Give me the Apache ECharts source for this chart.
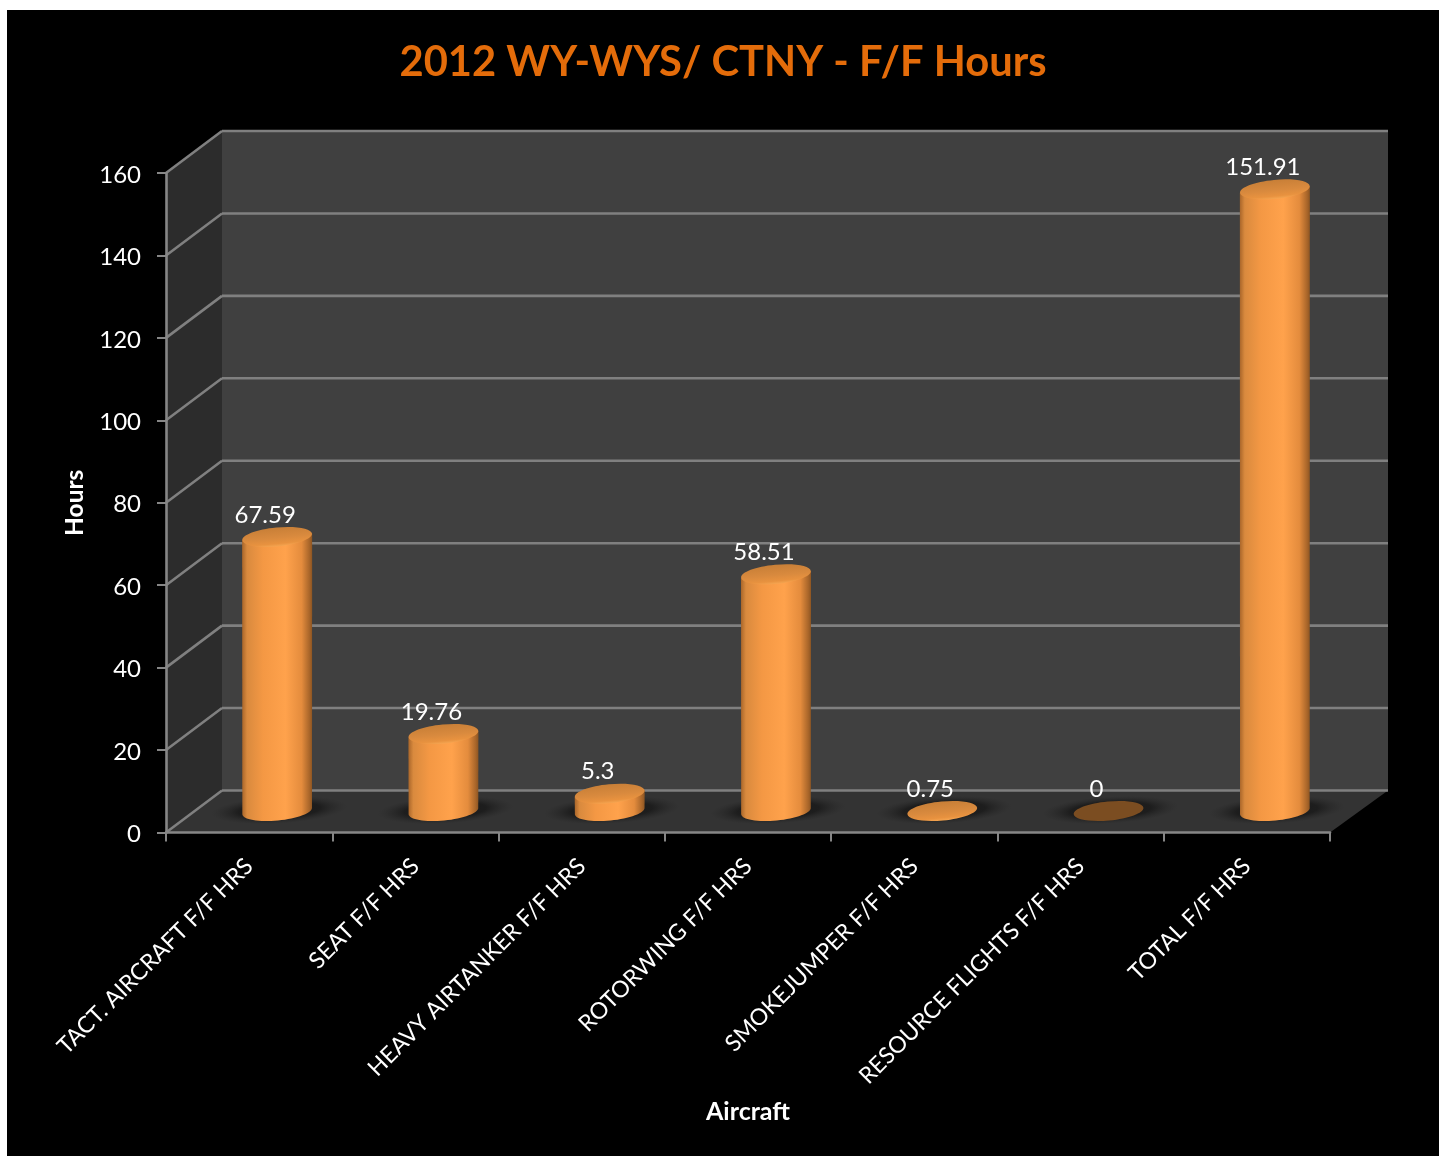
<!DOCTYPE html>
<html><head><meta charset="utf-8">
<style>html,body{margin:0;padding:0;background:#fff}#c{width:1443px;height:1156px}</style>
<script src="https://cdn.jsdelivr.net/npm/echarts@6/dist/echarts.min.js"></script>
</head><body><div id="c"></div>
<script>
const categories = ["TACT. AIRCRAFT F/F HRS","SEAT F/F HRS","HEAVY AIRTANKER F/F HRS","ROTORWING F/F HRS","SMOKEJUMPER F/F HRS","RESOURCE FLIGHTS F/F HRS","TOTAL F/F HRS"];
const hours = [67.59,19.76,5.3,58.51,0.75,0,151.91];
const yTicks = [0,20,40,60,80,100,120,140,160];
const FONT = 'Lato';
const GRID = '#808080';
const DX = 56, DXR = 58, DY = -42;  // depth of the 3D box
const RX = 35, RY = 9.5, TILT = 0.095;
const chart = echarts.init(document.getElementById('c'), null, {renderer:'canvas'});

function cylinder(params, api){
  const i = api.value(0), v = api.value(1);
  const p = api.coord([i, v]), p0 = api.coord([i, 0]);
  const cx = p[0] + DX/2;
  const by = p0[1] + DY/2 - 0.5;
  const ty = Math.min(p[1] + DY/2 + 4, by);
  const sx = Math.sin(TILT)*RX;
  const ch = [];
  ch.push({type:'circle', x:cx+2, y:by-1, rotation:TILT*0.6, scaleY:0.2, shape:{cx:0,cy:0,r:68},
    style:{fill:new echarts.graphic.RadialGradient(0.5,0.5,0.5,[
      {offset:0,color:'rgba(22,22,22,0.95)'},{offset:.6,color:'rgba(24,24,24,0.8)'},{offset:1,color:'rgba(40,40,40,0)'}])}, z2:1});
  if (ty < by - 0.5) {
    const pts = [[cx-RX,ty+sx],[cx+RX,ty-sx]];
    const n = 32;
    for (let k=0;k<=n;k++){
      const a = Math.PI*k/n;
      const ex = RX*Math.cos(a), ey = RY*Math.sin(a);
      pts.push([cx+ex*Math.cos(TILT)+ey*Math.sin(TILT), by-ex*Math.sin(TILT)+ey*Math.cos(TILT)]);
    }
    ch.push({type:'polygon', shape:{points:pts}, z2:2, style:{fill:new echarts.graphic.LinearGradient(0,0,1,0,[
      {offset:0,color:'#a9662a'},{offset:.07,color:'#d98a3e'},{offset:.3,color:'#f49844'},
      {offset:.62,color:'#ffa24c'},{offset:.85,color:'#e48c3d'},{offset:.96,color:'#a9662a'},{offset:1,color:'#8d5522'}])}});
  }
  ch.push({type:'ellipse', x:cx, y:ty, rotation:TILT, shape:{cx:0,cy:0,rx:RX,ry:RY}, z2:3,
    style: v===0 ? {fill:'#7b4d21'} : {fill:new echarts.graphic.LinearGradient(0,0,0,1,[
      {offset:0,color:'#c87f37'},{offset:.55,color:'#d98a3e'},{offset:.85,color:'#e8923f'},{offset:1,color:'#f5a551'}])}});
  ch.push({type:'text', z2:4, style:{text:String(v), x:cx-12, y:ty-22, fill:'#fff',
    font:'24px '+FONT, align:'center', verticalAlign:'middle'}});
  return {type:'group', children:ch};
}

function walls(params, api){
  const t = api.value(1);
  const cs = params.coordSys;
  const y = api.coord([0,t])[1];
  const L = cs.x, R = cs.x+cs.width, T = cs.y, B = cs.y+cs.height;
  const ch = [];
  const ln = {stroke:GRID, lineWidth:2.6};
  if (params.dataIndex === 0){
    ch.push({type:'polygon', shape:{points:[[L,T],[L+DX,T+DY],[L+DX,B+DY],[L,B]]}, style:{fill:'#2c2c2c'}, z2:0});
    ch.push({type:'polygon', shape:{points:[[L+DX,T+DY],[R+DXR,T+DY],[R+DXR,B+DY],[L+DX,B+DY]]}, style:{fill:'#404040'}, z2:0});
    ch.push({type:'polygon', shape:{points:[[L,B],[L+DX,B+DY],[R+DXR,B+DY],[R,B]]}, style:{fill:'#333333'}, z2:0});
  }
  ch.push({type:'line', shape:{x1:L,y1:y,x2:L+DX,y2:y+DY}, style:ln, z2:1});
  ch.push({type:'line', shape:{x1:L+DX,y1:y+DY,x2:R+DXR,y2:y+DY}, style:ln, z2:1});
  return {type:'group', children:ch};
}

chart.setOption({
  animation:false,
  backgroundColor:'#fff',
  title:{text:'2012 WY-WYS/ CTNY - F/F Hours', left:718, top:58, textAlign:'center', textVerticalAlign:'middle',
    textStyle:{color:'#e46c0a', fontFamily:FONT, fontWeight:'bold', fontSize:41.7}},
  graphic:[{type:'rect', z:-100, silent:true, shape:{x:7,y:10,width:1432,height:1146}, style:{fill:'#000'}}],
  grid:{left:166, top:173, width:1164, height:659.5, containLabel:false},
  xAxis:{type:'category', data:categories, boundaryGap:true,
    name:'Aircraft', nameLocation:'middle', nameGap:267,
    nameTextStyle:{color:'#fff', fontFamily:FONT, fontWeight:'bold', fontSize:25},
    axisLine:{lineStyle:{color:'#868686',width:2.6}}, axisTick:{show:true,length:9,lineStyle:{color:'#868686',width:2}},
    axisLabel:{interval:0, rotate:45, margin:30, color:'#fff', fontFamily:FONT, fontSize:23},
    splitLine:{show:false}, z:5},
  yAxis:{type:'value', min:0, max:160, interval:20,
    name:'Hours', nameLocation:'middle', nameGap:78, nameRotate:90,
    nameTextStyle:{color:'#fff', fontFamily:FONT, fontWeight:'bold', fontSize:24.5},
    axisLine:{show:true,lineStyle:{color:'#868686',width:2.6}}, axisTick:{show:true,length:9,lineStyle:{color:'#868686',width:2}},
    axisLabel:{margin:25, formatter:'{a|{value}}',
      rich:{a:{color:'#fff', fontFamily:FONT, fontSize:24, padding:[4,0,0,0]}}},
    splitLine:{show:false}, z:5},
  series:[
    {type:'custom', name:'walls', coordinateSystem:'cartesian2d', z:1, clip:false, silent:true,
      data:yTicks.map(t=>[0,t]), encode:{x:0,y:1}, renderItem:walls},
    {type:'custom', name:'Hours', coordinateSystem:'cartesian2d', z:3, clip:false,
      data:hours.map((v,i)=>[i,v]), encode:{x:0,y:1}, renderItem:cylinder}
  ]
});
</script></body></html>
